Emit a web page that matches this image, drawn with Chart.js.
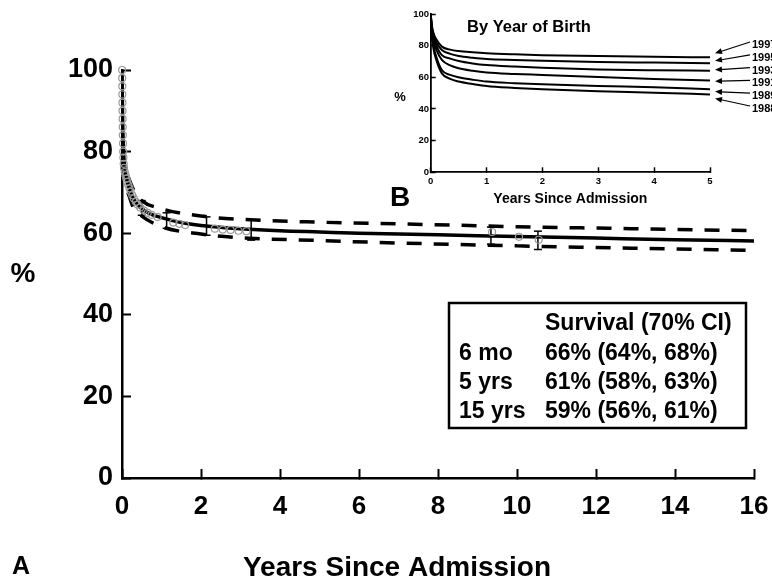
<!DOCTYPE html>
<html><head><meta charset="utf-8">
<script src="https://cdn.jsdelivr.net/npm/chart.js@4"></script>
<style>
html,body{margin:0;padding:0;background:#fff;}
#wrap{position:relative;width:772px;height:583px;overflow:hidden;background:#fff;}
#main{position:absolute;left:0;top:0;}
#inset{position:absolute;left:390px;top:0;}
</style></head><body>
<div id="wrap"><canvas id="main" width="772" height="583"></canvas><canvas id="inset" width="382" height="210"></canvas></div>
<script>
const FONT = '"Liberation Sans", Arial, Helvetica, sans-serif';

// ---------- Panel A data ----------
const mainXTicks = [0, 2, 4, 6, 8, 10, 12, 14, 16];
const mainYTicks = [0, 20, 40, 60, 80, 100];
const survX = [0, 0.01, 0.02, 0.04, 0.06, 0.08, 0.1, 0.15, 0.2, 0.3, 0.4, 0.5, 0.7, 1, 1.5, 2, 3, 4, 5, 6, 8, 10, 12, 14, 16];
const survY = [100, 92, 86, 80, 77, 75.5, 74, 72, 70.5, 68.3, 67, 66, 64.8, 63.8, 62.6, 61.9, 61.1, 60.6, 60.3, 60.0, 59.6, 59.2, 58.8, 58.4, 58.1];
const upperX = [0.15, 0.3, 0.5, 1, 2, 3, 5, 7, 10, 13, 16];
const upperY = [74, 70.5, 68, 66, 64.2, 63.4, 62.7, 62.3, 61.6, 61.1, 60.6];
const lowerX = [0.15, 0.3, 0.5, 1, 2, 3, 5, 7, 10, 13, 16];
const lowerY = [70, 66, 64.2, 61.6, 59.8, 58.9, 58.2, 57.6, 56.9, 56.3, 55.8];
const errX  = [0.5, 1.13, 2.14, 3.27, 9.34, 10.53];
const errLo = [64.4, 61.2, 59.5, 58.3, 57.3, 56.0];
const errHi = [68.0, 65.0, 64.0, 63.2, 61.5, 60.5];
const obsX = [0.004, 0.005, 0.007, 0.009, 0.011, 0.013, 0.016, 0.019, 0.022, 0.026, 0.03, 0.036, 0.043, 0.05, 0.07, 0.09, 0.11, 0.13, 0.16, 0.19, 0.22, 0.26, 0.3, 0.35, 0.4, 0.46, 0.55, 0.65, 0.75, 0.9, 1.3, 1.45, 1.6, 2.35, 2.55, 2.75, 2.95, 3.15, 9.37, 10.05, 10.55];
const obsY = [100, 98, 96, 94, 92, 90, 88, 86, 84, 82, 80, 78.5, 77, 76, 75, 74.2, 73.4, 72.6, 71.8, 71, 70.2, 69.3, 68.5, 67.7, 67, 66.3, 65.6, 65, 64.5, 64, 62.6, 62.3, 62, 61.1, 60.9, 60.8, 60.6, 60.5, 60.3, 59.1, 58.4];
const tableHeader = 'Survival (70% CI)';
const tableLabels = ['6 mo', '5 yrs', '15 yrs'];
const tableValues = ['66% (64%, 68%)', '61% (58%, 63%)', '59% (56%, 61%)'];
const mainXTitle = 'Years Since Admission';
const mainYTitle = '%';
const panelA = 'A';

// ---------- Panel B data ----------
const insetXTicks = [0, 1, 2, 3, 4, 5];
const insetYTicks = [0, 20, 40, 60, 80, 100];
const insetX = [0, 0.02, 0.05, 0.1, 0.2, 0.35, 0.5, 0.75, 1, 1.5, 2, 3, 4, 5];
const s1997 = [100, 93, 88, 84, 79.4, 77.5, 76.6, 75.8, 75.2, 74.5, 74.0, 73.5, 73.0, 72.6];
const s1995 = [100, 92, 86.5, 82, 77.3, 74.8, 73.5, 72.4, 71.6, 71.0, 70.5, 69.7, 69.3, 68.9];
const s1993 = [100, 91, 85, 80, 74, 71.8, 70.3, 68.8, 67.8, 66.8, 66.0, 65.0, 64.5, 64.2];
const s1991 = [100, 90, 83, 77.5, 71, 67.5, 65.7, 64.1, 63.0, 62.1, 61.5, 60.2, 59.0, 58.0];
const s1989 = [100, 88, 80, 73, 64.6, 61.5, 60.0, 58.5, 57.3, 56.3, 55.6, 54.5, 53.7, 52.5];
const s1988 = [100, 87, 78, 71, 62.5, 59.0, 57.3, 55.8, 54.5, 53.3, 52.4, 51.2, 50.3, 49.2];
const birthYears = ['1997', '1995', '1993', '1991', '1989', '1988'];
const birthSeries = [s1997, s1995, s1993, s1991, s1989, s1988];
const insetTitle = 'By Year of Birth';
const insetXTitle = 'Years Since Admission';
const panelB = 'B';

const pts = (xs, ys) => xs.map((x, i) => ({x: x, y: ys[i]}));
const errData = [];
errX.forEach((x, i) => { errData.push({x: x, y: errLo[i]}, {x: x, y: errHi[i]}, {x: x, y: null}); });

const mainPlugin = {
  id: 'mainText',
  afterDraw(chart) {
    const ctx = chart.ctx;
    ctx.save();
    ctx.fillStyle = '#000';
    ctx.textBaseline = 'middle';
    ctx.textAlign = 'center';
    ctx.font = 'bold 28px ' + FONT;
    ctx.fillText(mainXTitle, 397, 568);
    ctx.fillText(mainYTitle, 23, 274);
    ctx.font = 'bold 25px ' + FONT;
    ctx.fillText(panelA, 21, 567);
    ctx.strokeStyle = '#000';
    ctx.lineWidth = 2.5;
    ctx.strokeRect(449, 303, 297, 125);
    ctx.textAlign = 'left';
    ctx.font = 'bold 23px ' + FONT;
    ctx.fillText(tableHeader, 545, 324);
    tableLabels.forEach((t, i) => {
      ctx.fillText(t, 459, 354 + i * 29);
      ctx.fillText(tableValues[i], 545, 354 + i * 29);
    });
    ctx.restore();
  }
};

new Chart(document.getElementById('main'), {
  type: 'line',
  data: {
    datasets: [
      {data: pts(obsX, obsY), showLine: false, pointStyle: 'circle', pointRadius: 3.5,
       pointBorderColor: '#9a9a9a', pointBackgroundColor: 'rgba(0,0,0,0)', pointBorderWidth: 1.2, clip: false},
      {data: pts(upperX, upperY), borderColor: '#000', borderWidth: 3.5, borderDash: [15, 12], pointRadius: 0,
       cubicInterpolationMode: 'monotone', fill: false},
      {data: pts(lowerX, lowerY), borderColor: '#000', borderWidth: 3.5, borderDash: [15, 12], pointRadius: 0,
       cubicInterpolationMode: 'monotone', fill: false},
      {data: pts(survX, survY), borderColor: '#000', borderWidth: 3.5, pointRadius: 0,
       cubicInterpolationMode: 'monotone', fill: false},
      {data: errData, borderColor: '#000', borderWidth: 1.5, spanGaps: false, pointStyle: 'line',
       pointRadius: 4, pointBorderColor: '#000', pointBorderWidth: 1.5, fill: false}
    ]
  },
  options: {
    responsive: false, animation: false, events: [],
    layout: {padding: {left: 0, right: 18, top: 70, bottom: 0}},
    plugins: {legend: {display: false}, tooltip: {enabled: false}},
    scales: {
      x: {
        type: 'linear', min: 0, max: 16,
        afterBuildTicks: s => { s.ticks = mainXTicks.map(v => ({value: v})); },
        afterFit: s => { s.height = 105; s.paddingLeft = 0; s.paddingRight = 0; },
        grid: {drawOnChartArea: false, drawTicks: true, tickLength: -9, tickWidth: 2, tickColor: '#000'},
        border: {display: true, color: '#000', width: 2.5},
        ticks: {font: {family: FONT, size: 26, weight: 'bold'}, color: '#000', padding: 22, maxRotation: 0, autoSkip: false}
      },
      y: {
        type: 'linear', min: 0, max: 100,
        afterBuildTicks: s => { s.ticks = mainYTicks.map(v => ({value: v})); },
        afterFit: s => { s.width = 122; s.paddingTop = 0; s.paddingBottom = 0; },
        grid: {drawOnChartArea: false, drawTicks: true, tickLength: -9, tickWidth: 2, tickColor: '#000'},
        border: {display: true, color: '#000', width: 2.5},
        ticks: {font: {family: FONT, size: 27, weight: 'bold'}, color: '#000', padding: 18, autoSkip: false}
      }
    }
  },
  plugins: [mainPlugin]
});

const insetPlugin = {
  id: 'insetText',
  afterDraw(chart) {
    const ctx = chart.ctx;
    const xs = chart.scales.x, ys = chart.scales.y;
    ctx.save();
    ctx.fillStyle = '#000';
    ctx.strokeStyle = '#000';
    ctx.textBaseline = 'middle';
    ctx.textAlign = 'left';
    ctx.font = 'bold 16.5px ' + FONT;
    ctx.fillText(insetTitle, 77, 27);
    ctx.textAlign = 'center';
    ctx.font = 'bold 13px ' + FONT;
    ctx.fillText('%', 10, 97);
    ctx.font = 'bold 28px ' + FONT;
    ctx.fillText(panelB, 10, 198);
    ctx.textAlign = 'left';
    ctx.font = 'bold 11px ' + FONT;
    const endX = xs.getPixelForValue(insetX[insetX.length - 1]);
    birthYears.forEach((yr, i) => {
      const series = birthSeries[i];
      const tipX = endX + 5;
      const tipY = ys.getPixelForValue(series[series.length - 1]) + (i - 2.5) * 1.6;
      const labY = 45 + i * 12.8;
      const tailX = 360, tailY = labY - 3;
      ctx.fillText(yr, 362, labY);
      ctx.lineWidth = 1.2;
      ctx.beginPath(); ctx.moveTo(tailX, tailY); ctx.lineTo(tipX + 5, tipY + (tailY - tipY) * 5 / (tailX - tipX)); ctx.stroke();
      const ang = Math.atan2(tailY - tipY, tailX - tipX);
      const L = 7, W = 3;
      ctx.beginPath();
      ctx.moveTo(tipX, tipY);
      ctx.lineTo(tipX + L * Math.cos(ang) - W * Math.sin(ang), tipY + L * Math.sin(ang) + W * Math.cos(ang));
      ctx.lineTo(tipX + L * Math.cos(ang) + W * Math.sin(ang), tipY + L * Math.sin(ang) - W * Math.cos(ang));
      ctx.closePath(); ctx.fill();
    });
    ctx.restore();
  }
};

new Chart(document.getElementById('inset'), {
  type: 'line',
  data: {
    datasets: birthSeries.map(s => ({data: pts(insetX, s), borderColor: '#000', borderWidth: 2, pointRadius: 0,
      cubicInterpolationMode: 'monotone', fill: false}))
  },
  options: {
    responsive: false, animation: false, events: [],
    layout: {padding: {left: 0, right: 62, top: 14, bottom: 0}},
    plugins: {legend: {display: false}, tooltip: {enabled: false}},
    scales: {
      x: {
        type: 'linear', min: 0, max: 5,
        afterBuildTicks: s => { s.ticks = insetXTicks.map(v => ({value: v})); },
        afterFit: s => { s.height = 37.7; s.paddingLeft = 0; s.paddingRight = 0; },
        grid: {drawOnChartArea: false, drawTicks: true, tickLength: -5, tickWidth: 1.5, tickColor: '#000'},
        border: {display: true, color: '#000', width: 1.8},
        ticks: {font: {family: FONT, size: 9.5, weight: 'bold'}, color: '#000', padding: 8.7, maxRotation: 0, autoSkip: false},
        title: {display: true, text: insetXTitle, font: {family: FONT, size: 14, weight: 'bold', lineHeight: 1.2}, color: '#000', padding: {top: 0, bottom: 2.6}}
      },
      y: {
        type: 'linear', min: 0, max: 100,
        afterBuildTicks: s => { s.ticks = insetYTicks.map(v => ({value: v})); },
        afterFit: s => { s.width = 40.7; s.paddingTop = 0; s.paddingBottom = 0; },
        grid: {drawOnChartArea: false, drawTicks: true, tickLength: -5, tickWidth: 1.5, tickColor: '#000'},
        border: {display: true, color: '#000', width: 1.8},
        ticks: {font: {family: FONT, size: 9.5, weight: 'bold'}, color: '#000', padding: 6.7, autoSkip: false}
      }
    }
  },
  plugins: [insetPlugin]
});
</script>
</body></html>
